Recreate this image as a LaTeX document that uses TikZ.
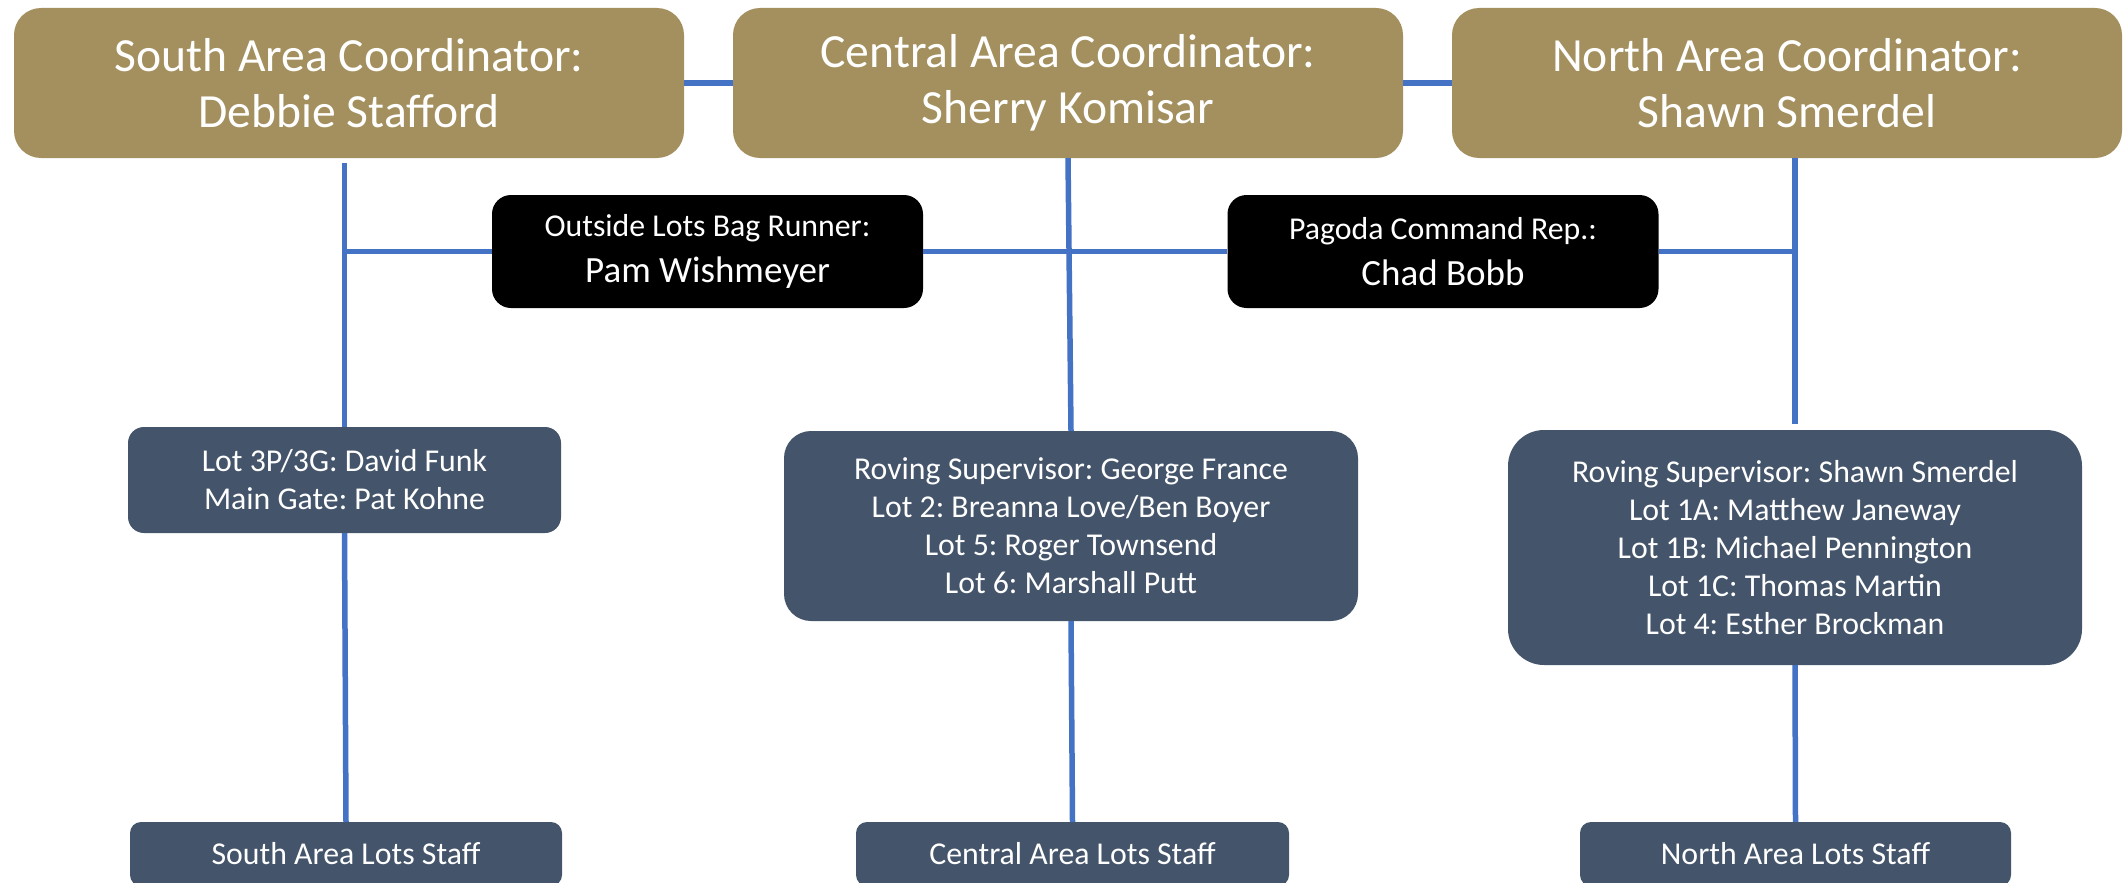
\documentclass[tikz,border=0pt]{standalone}
\usepackage{fontspec}
\setmainfont{Carlito}
\usepackage{tikz}
\usetikzlibrary{shapes,arrows}
\definecolor{gold}{RGB}{163, 144, 94}
\definecolor{slate}{RGB}{68, 84, 106}
\definecolor{lineblue}{RGB}{68, 114, 196}
\newcommand{\coordfont}{\fontsize{47.6}{56}\selectfont}
\newcommand{\lotfont}{\fontsize{31.8}{38}\selectfont}
\newcommand{\namefont}{\fontsize{37}{46}\selectfont}
\frenchspacing

\begin{document}
\begin{tikzpicture}[x=1pt, y=-1pt,
    coordbox/.style={fill=gold, text=white, rounded corners=27pt, align=center,
      inner sep=0pt, minimum width=670pt, minimum height=150pt, font=\coordfont},
    runbox/.style={fill=black, text=white, rounded corners=19pt, align=center,
      inner sep=0pt, minimum width=431pt, minimum height=113pt, font=\namefont},
    lotbox/.style={fill=slate, text=white, align=center, inner sep=0pt, font=\lotfont},
    link/.style={draw=lineblue, line width=5.5pt}]
        \useasboundingbox (0,0) rectangle (2123,883);
        \clip (0,0) rectangle (2123,883);
        % area coordinators
        \node [coordbox] (south) at (349,83) {South Area Coordinator:\\Debbie Stafford};
        \node [coordbox] (central) at (1068,83) {Central Area Coordinator:\\Sherry Komisar};
        \node [coordbox] (north) at (1787,83) {North Area Coordinator:\\Shawn Smerdel};
        \node [runbox] (runner) at (707.5,251.5) {{\lotfont Outside Lots Bag Runner:}\\Pam Wishmeyer};
        \node [runbox] (pagoda) at (1443,251.5) {{\lotfont Pagoda Command Rep.:}\\Chad Bobb};
        \node [lotbox, rounded corners=16pt, minimum width=433pt, minimum height=106pt] (lotsouth) at (344.5,480)
          {Lot 3P/3G: David Funk\\Main Gate: Pat Kohne};
        \node [lotbox, rounded corners=27pt, minimum width=574pt, minimum height=190pt] (rovcentral) at (1071,526)
          {Roving Supervisor: George France\\Lot 2: Breanna Love/Ben Boyer\\Lot 5: Roger Townsend\\Lot 6: Marshall Putt};
        \node [lotbox, rounded corners=36pt, minimum width=574pt, minimum height=235pt] (rovnorth) at (1795,547.5)
          {Roving Supervisor: Shawn Smerdel\\Lot 1A: Matthew Janeway\\Lot 1B: Michael Pennington\\Lot 1C: Thomas Martin\\Lot 4: Esther Brockman};
        \node [lotbox, rounded corners=11pt, minimum width=432pt, minimum height=64pt] (staffsouth) at (346,854) {South Area Lots Staff};
        \node [lotbox, rounded corners=11pt, minimum width=433pt, minimum height=64pt] (staffcentral) at (1072.5,854) {Central Area Lots Staff};
        \node [lotbox, rounded corners=11pt, minimum width=431pt, minimum height=64pt] (staffnorth) at (1795.5,854) {North Area Lots Staff};
        % connectors
        \draw [link] (south.east) -- (central.west);
        \draw [link] (central.east) -- (north.west);
        \draw [link] ([yshift=-5pt]lotsouth.north |- south.south) -- (lotsouth.north);
        \draw [link] (runner.west -| lotsouth.north) -- (runner.west);
        \draw [link] (runner.east) -- (pagoda.west);
        \draw [link] (pagoda.east) -- (pagoda.east -| rovnorth.north);
        \draw [link] (central.south) -- (rovcentral.north);
        \draw [link] (rovnorth.north |- north.south) -- ([yshift=6pt]rovnorth.north);
        \draw [link] (lotsouth.south) -- (staffsouth.north);
        \draw [link] (rovcentral.south) -- (staffcentral.north);
        \draw [link] (rovnorth.south) -- (staffnorth.north);
\end{tikzpicture}
\end{document}
